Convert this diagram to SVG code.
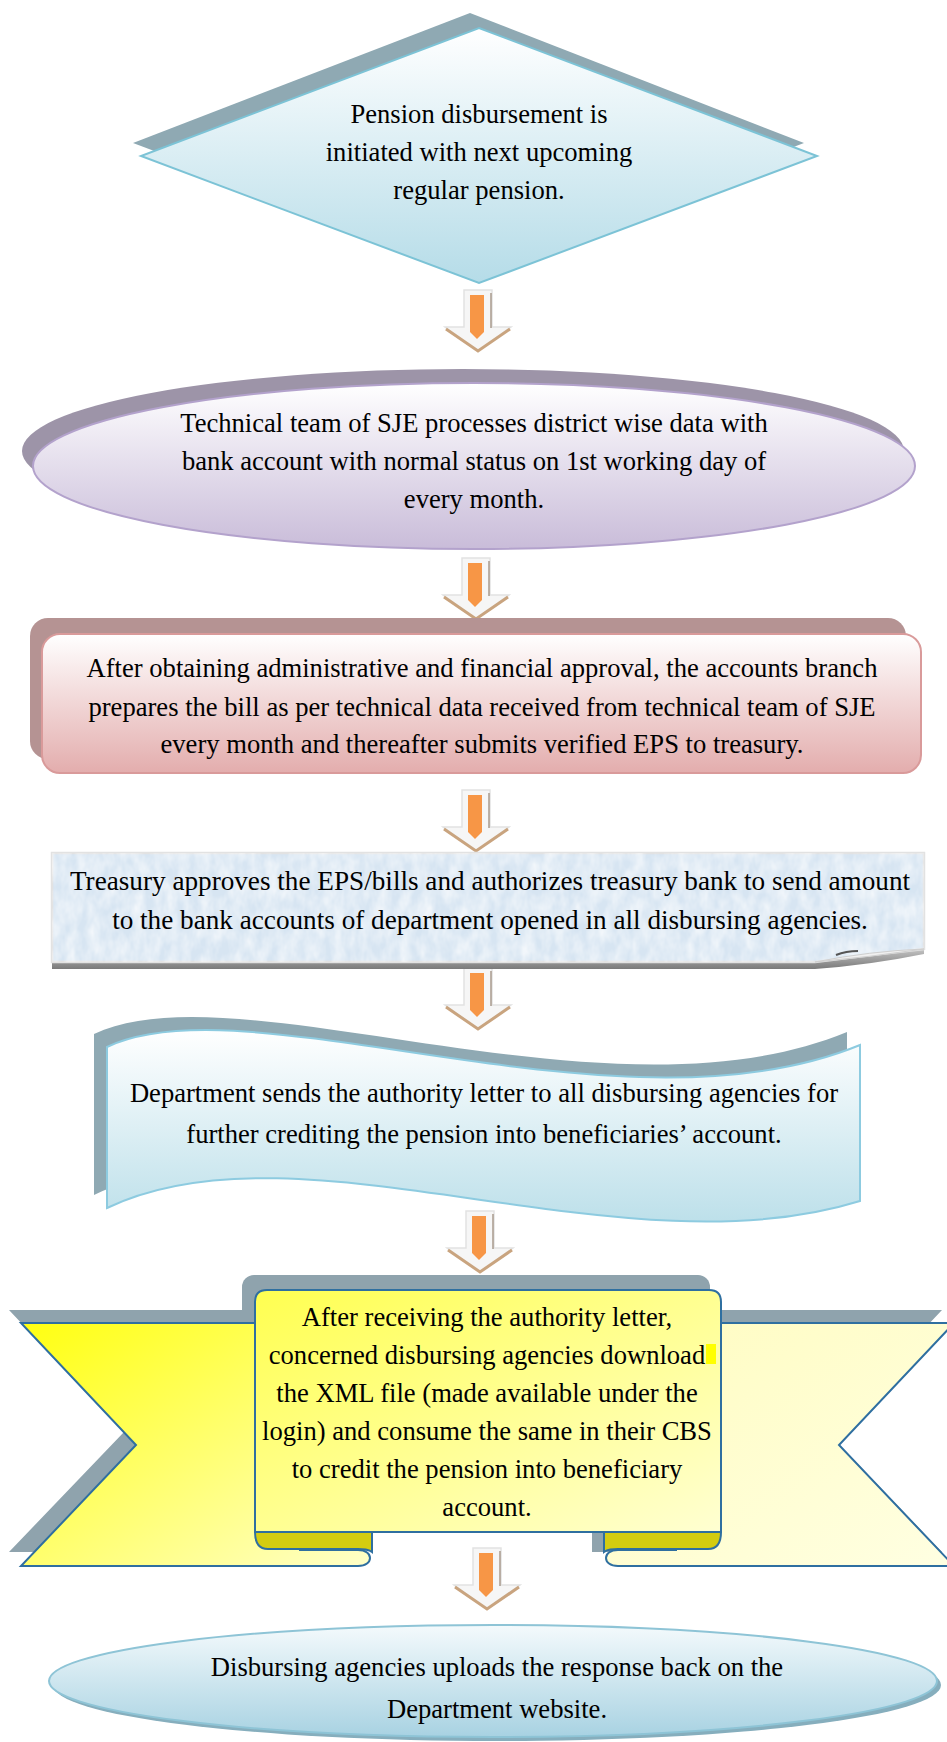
<svg xmlns="http://www.w3.org/2000/svg" width="947" height="1742" viewBox="0 0 947 1742">
<defs>
<linearGradient id="gDiamond" x1="0" y1="0" x2="0" y2="1"><stop offset="0" stop-color="#ffffff"/><stop offset="1" stop-color="#b5dce8"/></linearGradient>
<linearGradient id="gPurple" x1="0" y1="0" x2="0" y2="1"><stop offset="0" stop-color="#ffffff"/><stop offset="1" stop-color="#c9bcd9"/></linearGradient>
<linearGradient id="gPink" x1="0" y1="0" x2="0" y2="1"><stop offset="0" stop-color="#ffffff"/><stop offset="1" stop-color="#e3adad"/></linearGradient>
<linearGradient id="gWave" x1="0" y1="0" x2="0" y2="1"><stop offset="0" stop-color="#ffffff"/><stop offset="1" stop-color="#bde0ea"/></linearGradient>
<linearGradient id="gYL" x1="0" y1="0" x2="1" y2="1"><stop offset="0" stop-color="#ffff10"/><stop offset="1" stop-color="#ffffc8"/></linearGradient>
<linearGradient id="gYC" x1="0" y1="0" x2="1" y2="1"><stop offset="0" stop-color="#ffff50"/><stop offset="1" stop-color="#ffffd2"/></linearGradient>
<linearGradient id="gYR" x1="0" y1="0" x2="1" y2="1"><stop offset="0" stop-color="#fffcc0"/><stop offset="1" stop-color="#ffffe2"/></linearGradient>
<linearGradient id="gBlue7" x1="0" y1="0" x2="0" y2="1"><stop offset="0" stop-color="#f4fafc"/><stop offset="1" stop-color="#a8d2e2"/></linearGradient>
<linearGradient id="gBand" x1="0" y1="0" x2="0" y2="1"><stop offset="0" stop-color="#c4c4c4"/><stop offset="1" stop-color="#7a7a7a"/></linearGradient>
<filter id="tex" x="0" y="0" width="1" height="1">
<feTurbulence type="fractalNoise" baseFrequency="0.09 0.05" numOctaves="3" seed="4" result="n"/>
<feColorMatrix in="n" type="matrix" values="0 0 0 0 1  0 0 0 0 1  0 0 0 0 1  1.1 0 0 0 -0.3" result="w"/>
<feComposite in="w" in2="SourceGraphic" operator="in"/>
</filter>
<g id="arrow">
<path d="M-14,0 H14 V37 H33 L0,61 L-33,37 H-14 Z" fill="#f6f6f6" stroke="#e2e2e2" stroke-width="1.5"/>
<line x1="13" y1="3" x2="13" y2="38" stroke="#a89a8c" stroke-width="1.5"/>
<path d="M-8,5 H6 V42 L-1,49 L-8,42 Z" fill="#f79646"/>
<polyline points="-32,39 0,61 32,39" fill="none" stroke="#c9a47f" stroke-width="3"/>
</g>
</defs>
<style>
text { font-family: "Liberation Serif", "Times New Roman", serif; font-size: 26.6px; fill: #000; text-anchor: middle; }
.sh-teal { fill: #8fa9b3; }
.big { font-size: 27.2px; }
</style>

<g id="connectors">
<use href="#arrow" transform="translate(478,290)"/>
<use href="#arrow" transform="translate(476,558)"/>
<use href="#arrow" transform="translate(476,790)"/>
<use href="#arrow" transform="translate(478,968)"/>
<use href="#arrow" transform="translate(480,1211)"/>
<use href="#arrow" transform="translate(487,1548)"/>
</g>

<g id="node-1">
<polygon class="sh-teal" points="470,13 804,143 470,270 133,143"/>
<polygon points="479,28 817,156 479,283 141,156" fill="url(#gDiamond)" stroke="#7cc3d6" stroke-width="2"/>
<text x="479" y="123">Pension disbursement is</text>
<text x="479" y="161">initiated with next upcoming</text>
<text x="479" y="199">regular pension.</text>
</g>

<g id="node-2">
<ellipse cx="463" cy="451" rx="441" ry="82" fill="#9d94a8"/>
<ellipse cx="474" cy="466" rx="441" ry="83" fill="url(#gPurple)" stroke="#b3a2cc" stroke-width="2"/>
<text x="474" y="432">Technical team of SJE processes district wise data with</text>
<text x="474" y="470">bank account with normal status on 1st working day of</text>
<text x="474" y="508">every month.</text>
</g>

<g id="node-3">
<rect x="30" y="618" width="876" height="141" rx="18" fill="#b59393"/>
<rect x="42" y="634" width="879" height="139" rx="18" fill="url(#gPink)" stroke="#d99a9a" stroke-width="2"/>
<text x="482" y="677">After obtaining administrative and financial approval, the accounts branch</text>
<text x="482" y="716">prepares the bill as per technical data received from technical team of SJE</text>
<text x="482" y="753">every month and thereafter submits verified EPS to treasury.</text>
</g>

<g id="node-4">
<path d="M52,962 L815,962 Q870,957 924,949 L924,954 Q870,965 815,969 L52,969 Z" fill="url(#gBand)"/>
<path d="M52,853 L924,853 L924,949 Q870,955 815,962 L52,962 Z" fill="#d7e5f2" stroke="#e2e2e2" stroke-width="2.5"/>
<path d="M52,853 L924,853 L924,949 Q870,955 815,962 L52,962 Z" fill="#ffffff" filter="url(#tex)"/>
<path d="M815,962 Q870,951 924,949 Q870,957 815,962 Z" fill="#f0f0f0" stroke="#cfcfcf" stroke-width="1"/>
<path d="M836,955 Q846,951 858,951" fill="none" stroke="#555555" stroke-width="2"/>
<text class="big" x="490" y="890">Treasury approves the EPS/bills and authorizes treasury bank to send amount</text>
<text class="big" x="490" y="929">to the bank accounts of department opened in all disbursing agencies.</text>
</g>

<g id="node-5">
<path d="M94,1034 C237,966 607,1131 847,1032 L847,1188 C607,1263 287,1102 94,1195 Z" class="sh-teal"/>
<path d="M107,1047 C250,979 620,1144 860,1045 L860,1201 C620,1276 300,1115 107,1208 Z" fill="url(#gWave)" stroke="#8dcbe0" stroke-width="2"/>
<text x="484" y="1102">Department sends the authority letter to all disbursing agencies for</text>
<text x="484" y="1143">further crediting the pension into beneficiaries’ account.</text>
</g>

<g id="node-6">
<polygon points="9,1310 300,1310 300,1552 9,1552 124,1432" fill="#8fa3ad"/>
<polygon points="942,1310 592,1310 592,1552 942,1552 827,1432" fill="#8fa3ad"/>
<rect x="242" y="1275" width="468" height="250" rx="12" fill="#8fa3ad"/>
<path d="M21,1323 L300,1323 L300,1550 L358,1550 C374,1550 374,1566 358,1566 L21,1566 L136,1445 Z" fill="url(#gYL)" stroke="#2f6fa0" stroke-width="2"/>
<path d="M954,1323 L676,1323 L676,1550 L618,1550 C602,1550 602,1566 618,1566 L954,1566 L839,1445 Z" fill="url(#gYR)" stroke="#2f6fa0" stroke-width="2"/>
<path d="M255,1532 L372,1532 L372,1552 C368,1549 364,1549 358,1549 L268,1549 C258,1549 255,1542 255,1532 Z" fill="#d4cc10" stroke="#2f6fa0" stroke-width="2"/>
<path d="M721,1532 L604,1532 L604,1552 C608,1549 612,1549 618,1549 L708,1549 C718,1549 721,1542 721,1532 Z" fill="#d4cc10" stroke="#2f6fa0" stroke-width="2"/>
<path d="M255,1302 Q255,1290 267,1290 L709,1290 Q721,1290 721,1302 L721,1532 L255,1532 Z" fill="url(#gYC)" stroke="#2f6fa0" stroke-width="2"/>
<rect x="706" y="1344" width="10" height="20" fill="#ffff00"/>
<text x="487" y="1326">After receiving the authority letter,</text>
<text x="487" y="1364">concerned disbursing agencies download</text>
<text x="487" y="1402">the XML file (made available under the</text>
<text x="487" y="1440">login) and consume the same in their CBS</text>
<text x="487" y="1478">to credit the pension into beneficiary</text>
<text x="487" y="1516">account.</text>
</g>

<g id="node-7">
<ellipse cx="497" cy="1685" rx="444" ry="56" fill="#86aebd"/>
<ellipse cx="493" cy="1681" rx="444" ry="56" fill="url(#gBlue7)" stroke="#8ec4d6" stroke-width="2"/>
<text x="497" y="1676">Disbursing agencies uploads the response back on the</text>
<text x="497" y="1718">Department website.</text>
</g>
</svg>
